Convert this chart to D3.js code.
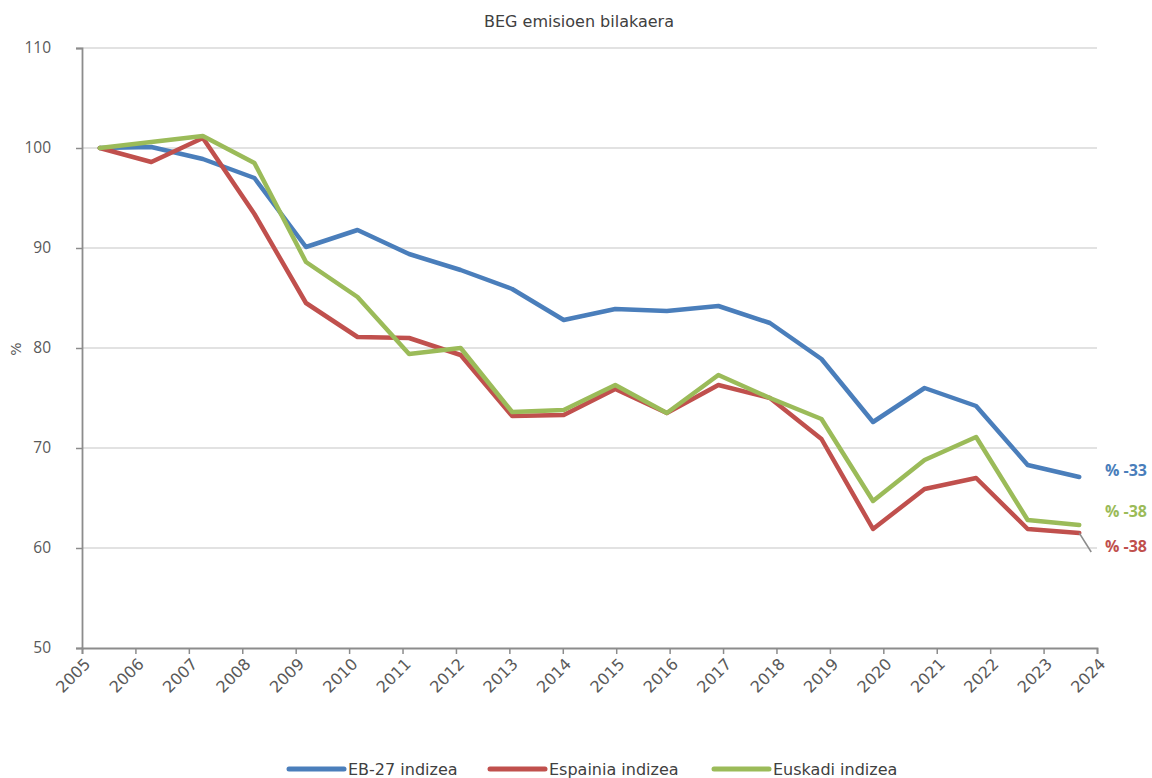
<!DOCTYPE html>
<html>
<head>
<meta charset="utf-8">
<script src="https://cdn.jsdelivr.net/npm/d3@7"></script>
<style>
  html, body { margin: 0; padding: 0; background: #fff; }
  svg { display: block; font-family: "DejaVu Sans", "Open Sans", sans-serif; }
</style>
</head>
<body>
<svg id="chart" width="1152" height="778"></svg>
<script>
const years = [2005,2006,2007,2008,2009,2010,2011,2012,2013,2014,2015,2016,2017,2018,2019,2020,2021,2022,2023,2024];
const eb27 = [100,100.1,98.9,97.0,90.1,91.8,89.4,87.8,85.9,82.8,83.9,83.7,84.2,82.5,78.9,72.6,76.0,74.2,68.3,67.1];
const espainia = [100,98.6,101.0,93.4,84.5,81.1,81.0,79.3,73.2,73.3,75.9,73.5,76.3,75.0,70.9,61.9,65.9,67.0,61.9,61.5];
const euskadi = [100,100.6,101.2,98.5,88.6,85.1,79.4,80.0,73.6,73.8,76.3,73.5,77.3,75.0,72.9,64.7,68.8,71.1,62.8,62.3];
const yTicks = [50,60,70,80,90,100,110];
const seriesNames = ["EB-27 indizea","Espainia indizea","Euskadi indizea"];
const endLabels = ["% -33","% -38","% -38"];
const colors = ["#4a7ebb","#c0504d","#9bbb59"];

(function() {
const svg = d3.select("#chart");
const mLeft = 82, mRight = 1097, mTop = 48, mBottom = 648;

const y = d3.scaleLinear().domain([50,110]).range([mBottom, mTop]);
const xAxisScale = d3.scaleLinear().domain([2005,2024]).range([mLeft, mRight]);
const x = d3.scalePoint().domain(years).range([mLeft, mRight]).padding(0.345);

// title
svg.append("text").attr("x", 579).attr("y", 27).attr("text-anchor","middle")
  .attr("font-size", 16).attr("fill", "#404040").text("BEG emisioen bilakaera");

// gridlines
svg.append("g").selectAll("line").data(yTicks.filter(t => t > 50)).join("line")
  .attr("x1", mLeft).attr("x2", mRight)
  .attr("y1", d => y(d)).attr("y2", d => y(d))
  .attr("stroke", "#d9d9d9").attr("stroke-width", 1.5);

// y axis
const yAxis = svg.append("g").attr("transform", `translate(${mLeft},0)`)
  .call(d3.axisLeft(y).tickValues(yTicks).tickSize(6).tickPadding(25));
yAxis.select(".domain").attr("stroke", "#8c8c8c").attr("stroke-width", 1.8);
yAxis.selectAll(".tick line").attr("stroke", "#8c8c8c").attr("stroke-width", 1.5);
yAxis.selectAll(".tick text").attr("font-size", 15.5).attr("fill", "#595959")
  .attr("font-family", "Open Sans, sans-serif");

// y axis title
svg.append("text").attr("transform", `translate(21,349) rotate(-90)`)
  .attr("text-anchor","middle").attr("font-size", 14).attr("fill", "#595959").text("%");

// x axis
const xAxis = svg.append("g").attr("transform", `translate(0,${mBottom})`)
  .call(d3.axisBottom(xAxisScale).tickValues(years).tickFormat(d3.format("d")).tickSize(6));
xAxis.select(".domain").attr("stroke", "#8c8c8c").attr("stroke-width", 1.8);
xAxis.selectAll(".tick line").attr("stroke", "#8c8c8c").attr("stroke-width", 1.5);
xAxis.selectAll(".tick text")
  .attr("font-size", 16).attr("font-family", "DejaVu Sans, sans-serif").attr("fill", "#595959")
  .attr("text-anchor", "end")
  .attr("dy", null).attr("y", 0)
  .attr("transform", "translate(9,17) rotate(-45)");

// lines
const allSeries = [eb27, espainia, euskadi];
const lineGen = d3.line().x((d,i) => x(years[i])).y(d => y(d));
svg.append("g").selectAll("path").data(allSeries).join("path")
  .attr("d", d => lineGen(d))
  .attr("fill", "none")
  .attr("stroke", (d,i) => colors[i])
  .attr("stroke-width", 4.5)
  .attr("stroke-linejoin", "round")
  .attr("stroke-linecap", "round");

// leader line for red label
const lastYear = years[years.length-1];
svg.append("line")
  .attr("x1", x(lastYear)).attr("y1", y(espainia[espainia.length-1]))
  .attr("x2", x(lastYear) + 12).attr("y2", y(espainia[espainia.length-1]) + 19)
  .attr("stroke", "#8c8c8c").attr("stroke-width", 1.5);

// end labels
const labelOffsets = [-7, 13, -14];
svg.append("g").selectAll("text").data(allSeries).join("text")
  .attr("x", 1105)
  .attr("y", (d,i) => y(d[d.length-1]) + labelOffsets[i])
  .attr("dy", "0.35em")
  .attr("font-size", 16).attr("font-weight", "bold")
  .attr("font-family", "Open Sans, sans-serif")
  .attr("fill", (d,i) => colors[i])
  .text((d,i) => endLabels[i]);

// legend
const legendX = [289, 490, 714];
const lg = svg.append("g").selectAll("g").data(seriesNames).join("g")
  .attr("transform", (d,i) => `translate(${legendX[i]},769)`);
lg.append("line").attr("x1", 0).attr("x2", 55).attr("y1", 0).attr("y2", 0)
  .attr("stroke", (d,i) => colors[i]).attr("stroke-width", 5).attr("stroke-linecap", "round");
lg.append("text").attr("x", 59).attr("y", 0).attr("dy", "0.35em")
  .attr("font-size", 16).attr("fill", "#404040").text(d => d);
})();
</script>
</body>
</html>
